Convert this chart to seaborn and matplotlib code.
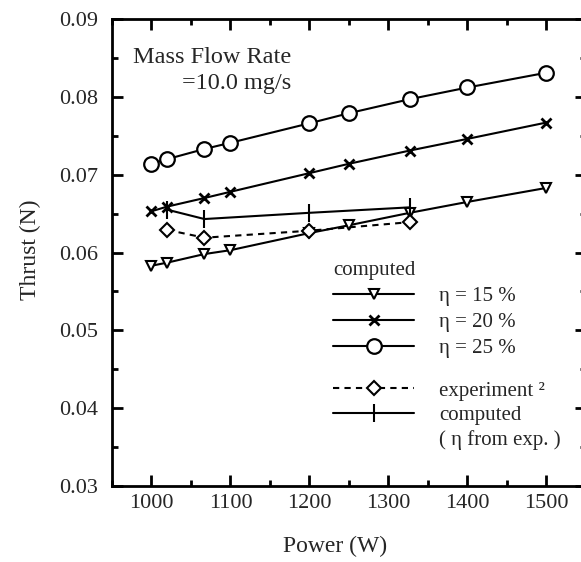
import matplotlib
matplotlib.use("Agg")
import matplotlib.pyplot as plt
from matplotlib.lines import Line2D
from matplotlib.ticker import MultipleLocator
import seaborn as sns
import pandas as pd

# ---- data ----
power_all = [1000, 1020, 1067, 1100, 1200, 1250, 1327, 1400, 1500]
thrust_eta15 = [0.0583, 0.0587, 0.0598, 0.0603, 0.0625, 0.0635, 0.0651, 0.0665, 0.0683]
thrust_eta20 = [0.0653, 0.0659, 0.0670, 0.0678, 0.0702, 0.0714, 0.0731, 0.0746, 0.0767]
thrust_eta25 = [0.0714, 0.0720, 0.0733, 0.0741, 0.0766, 0.0779, 0.0797, 0.0812, 0.0831]
power_exp = [1020, 1067, 1200, 1327]
thrust_exp = [0.0629, 0.0619, 0.0628, 0.0639]
thrust_comp_exp = [0.0655, 0.0643, 0.0651, 0.0658]

xticks = [1000, 1100, 1200, 1300, 1400, 1500]
yticks = [0.03, 0.04, 0.05, 0.06, 0.07, 0.08, 0.09]

sns.set_style("ticks")
plt.rcParams['font.family'] = ['Liberation Serif', 'DejaVu Serif']
plt.rcParams['mathtext.fontset'] = 'stix'
FS_TICK = 16
FS_LEG = 15
FS_TXT = 17.5
FS_LAB = 17

fig = plt.figure(figsize=(5.81, 5.62), dpi=100)
W_AX = 586 - 112
H_AX = 486 - 19
ax = fig.add_axes([112/581, 1-486/562, W_AX/581, H_AX/562])

lw = 1.5
common = dict(color='black', linewidth=lw, estimator=None, sort=False, ax=ax)

d15 = pd.DataFrame({'P': power_all, 'T': thrust_eta15})
d20 = pd.DataFrame({'P': power_all, 'T': thrust_eta20})
d25 = pd.DataFrame({'P': power_all, 'T': thrust_eta25})
dexp = pd.DataFrame({'P': power_exp, 'T': thrust_exp})
dce = pd.DataFrame({'P': power_exp, 'T': thrust_comp_exp})

sns.lineplot(data=d15, x='P', y='T', marker='v', markersize=7.5, markerfacecolor='white',
             markeredgecolor='black', markeredgewidth=1.5, label='η = 15 %', **common)
sns.lineplot(data=d20, x='P', y='T', marker='x', markersize=7, markeredgecolor='black',
             markeredgewidth=2, label='η = 20 %', **common)
sns.lineplot(data=d25, x='P', y='T', marker='o', markersize=10.5, markerfacecolor='white',
             markeredgecolor='black', markeredgewidth=1.6, label='η = 25 %', **common)
sns.lineplot(data=dexp, x='P', y='T', marker='D', markersize=7.5, markerfacecolor='white',
             markeredgecolor='black', markeredgewidth=1.5, dashes=False, linestyle=(0, (3, 2.5)),
             label='experiment ²', **common)
sns.lineplot(data=dce, x='P', y='T', marker='|', markersize=13, markeredgecolor='black',
             markeredgewidth=1.5, label='computed', **common)

ax.set_xlim(950, 1550)
ax.set_ylim(0.03, 0.09)
ax.set_xticks(xticks)
ax.set_yticks(yticks)
ax.set_xticklabels([str(v) for v in xticks])
ax.set_yticklabels([f"{v:.2f}" for v in yticks])
ax.xaxis.set_minor_locator(MultipleLocator(50))
ax.yaxis.set_minor_locator(MultipleLocator(0.005))

for s in ax.spines.values():
    s.set_linewidth(2)
    s.set_color('black')
    s.set_visible(True)

ax.tick_params(which='both', direction='in', top=True, right=True, color='black')
ax.tick_params(which='major', length=8, width=2, labelsize=FS_TICK)
ax.tick_params(which='minor', length=4, width=2)
ax.tick_params(axis='x', which='major', pad=6)
ax.tick_params(axis='y', which='major', pad=10)

ax.set_xlabel('Power (W)', fontsize=FS_LAB, va='center')
ax.set_ylabel('Thrust (N)', fontsize=FS_LAB, va='center')
ax.xaxis.set_label_coords((335-112)/W_AX, -(546-486)/H_AX)
ax.yaxis.set_label_coords(-(112-30)/W_AX, (486-250)/H_AX)

ax.text(0.045, 0.918, 'Mass Flow Rate', transform=ax.transAxes, fontsize=FS_TXT, va='center', ha='left')
ax.text(0.148, 0.862, '=10.0 mg/s', transform=ax.transAxes, fontsize=FS_TXT, va='center', ha='left')

handles, labels = ax.get_legend_handles_labels()
if ax.get_legend() is not None:
    ax.get_legend().remove()

leg1 = ax.legend(handles[:3], labels[:3], title='computed', loc='upper left',
                 bbox_to_anchor=((333-112)/W_AX, (486-261)/H_AX), frameon=False,
                 fontsize=FS_LEG, title_fontsize=FS_LEG, handlelength=3.9, handletextpad=1.2,
                 labelspacing=0.31, borderpad=0, borderaxespad=0, alignment='left')
ax.add_artist(leg1)
blank = Line2D([], [], linestyle='none', marker=None)
leg2 = ax.legend(handles[3:5] + [blank], labels[3:5] + ['( η from exp. )'], loc='upper left',
                 bbox_to_anchor=((333-112)/W_AX, (486-381)/H_AX), frameon=False,
                 fontsize=FS_LEG, handlelength=3.9, handletextpad=1.2,
                 labelspacing=0.25, borderpad=0, borderaxespad=0)

fig.savefig('out.png', dpi=100)
